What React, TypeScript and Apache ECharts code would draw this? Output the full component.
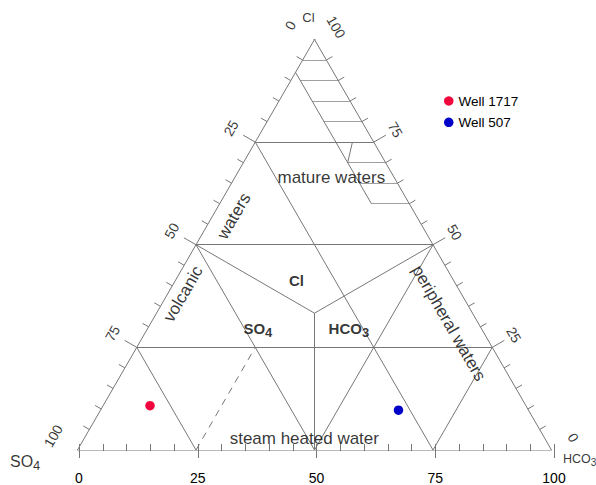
import React, { useEffect, useRef } from 'react';
import * as echarts from 'echarts';

const FONT = "'Liberation Sans', Arial, Helvetica, sans-serif";
const LINE = '#777777';
const HATCH = '#a0a0a0';
const TEXT = '#000000';

// tick values along every side (percent)
const TICK_VALUES = [0, 5, 10, 15, 20, 25, 30, 35, 40, 45, 50, 55, 60, 65, 70, 75, 80, 85, 90, 95, 100];
const LABEL_VALUES = [0, 25, 50, 75, 100];

// samples, ternary percentages
const WELL_NAMES = ['Well 1717', 'Well 507'];
const WELL_COLORS = ['#f0063c', '#0000c8'];
const WELL_CL = [10.8, 9.7];
const WELL_SO4 = [79.3, 27.4];
const WELL_HCO3 = [9.9, 62.8];

// field boundaries, each end as [Cl, SO4, HCO3]
const SOLID_SEGMENTS = [
  [[100, 0, 0], [0, 100, 0]],
  [[100, 0, 0], [0, 0, 100]],
  [[0, 100, 0], [0, 0, 100]],
  [[75, 25, 0], [75, 0, 25]],
  [[50, 50, 0], [50, 0, 50]],
  [[25, 75, 0], [25, 0, 75]],
  [[50, 50, 0], [0, 50, 50]],
  [[50, 0, 50], [0, 50, 50]],
  [[50, 50, 0], [33.33, 33.33, 33.34]],
  [[50, 0, 50], [33.33, 33.33, 33.34]],
  [[33.33, 33.33, 33.34], [0, 50, 50]],
  [[75, 25, 0], [0, 25, 75]],
  [[25, 75, 0], [0, 75, 25]],
  [[25, 0, 75], [0, 25, 75]],
  [[92, 8, 0], [60, 8, 32]],
  [[75, 4.5, 20.5], [70, 8, 22]],
];
const DASHED_SEGMENTS = [[[0, 75, 25], [25, 50, 25]]];
const HATCH_CL = [95, 90, 85, 80, 70, 65, 60];
const MATURE_SO4 = 8;

// annotations, anchored in ternary percentages [Cl, SO4, HCO3]
const REGION_TEXT = ['mature waters', 'waters', 'volcanic', 'peripheral waters', 'steam heated water'];
const REGION_POS = [[66.3, 13.3, 20.4], [57.0, 38.5, 4.5], [38.0, 58.7, 3.3], [30.9, 6.2, 62.9], [2.9, 50.7, 46.4]];
const REGION_ROTATE = [0, 60, 60, -60, 0];
const ANION_TEXT = ['{a|Cl}', '{a|SO}{b|4}', '{a|HCO}{b|3}'];
const ANION_POS = [[41.4, 33.1, 25.5], [29.7, 47.1, 23.2], [29.7, 27.9, 42.4]];

const PX = 100 / 474; // data units per pixel
const C30 = Math.cos(Math.PI / 6);

function tern(p: number[]): number[] {
  const [cl, so4, hco3] = p;
  const s = cl + so4 + hco3;
  const c = (cl / s) * 100;
  const h = (hco3 / s) * 100;
  return [h + c / 2, (c * Math.sqrt(3)) / 2];
}

// shift a data point by screen pixels (dx right, dy down)
function shift(p: number[], dx: number, dy: number): number[] {
  return [p[0] + dx * PX, p[1] - dy * PX];
}

function buildOption() {
  const solid = SOLID_SEGMENTS.map((s) => ({ coords: [tern(s[0]), tern(s[1])] }));
  const dashed = DASHED_SEGMENTS.map((s) => ({ coords: [tern(s[0]), tern(s[1])] }));
  const hatch = HATCH_CL.map((cl) => {
    const so4 = Math.min(MATURE_SO4, 100 - cl);
    return { coords: [tern([cl, so4, 100 - cl - so4]), tern([cl, 0, 100 - cl])] };
  });

  const ticks: any[] = [];
  TICK_VALUES.forEach((v) => {
    const len = v % 25 === 0 ? 14 : 7;
    const l = tern([100 - v, v, 0]);
    ticks.push({ coords: [l, shift(l, -C30 * len, -0.5 * len)] });
    const r = tern([v, 0, 100 - v]);
    ticks.push({ coords: [r, shift(r, C30 * len, -0.5 * len)] });
  });

  const labelItems: any[] = [];
  LABEL_VALUES.forEach((v) => {
    const l = tern([100 - v, v, 0]);
    labelItems.push({
      value: shift(l, -C30 * 28, -0.5 * 28),
      label: { formatter: String(v), rotate: 60, fontSize: 14 },
    });
    const r = tern([v, 0, 100 - v]);
    labelItems.push({
      value: shift(r, C30 * 25, -0.5 * 25),
      label: { formatter: String(v), rotate: -60, fontSize: 14 },
    });
  });
  REGION_TEXT.forEach((t, i) => {
    labelItems.push({
      value: tern(REGION_POS[i]),
      label: { formatter: t, rotate: REGION_ROTATE[i], fontSize: 17 },
    });
  });
  const rich = {
    a: { fontSize: 15, fontWeight: 'bold', lineHeight: 22, color: TEXT, fontFamily: FONT },
    b: { fontSize: 13, fontWeight: 'bold', lineHeight: 11, verticalAlign: 'bottom', color: TEXT, fontFamily: FONT },
  };
  ANION_TEXT.forEach((t, i) => {
    labelItems.push({ value: tern(ANION_POS[i]), label: { formatter: t, rich } });
  });
  // corner titles
  labelItems.push({
    value: shift(tern([100, 0, 0]), -6, -21.5),
    label: { formatter: 'Cl', fontSize: 13 },
  });
  labelItems.push({
    value: shift(tern([0, 100, 0]), -67.5, 11),
    label: {
      formatter: '{a|SO}{b|4}',
      align: 'left',
      rich: {
        a: { fontSize: 16, lineHeight: 22, color: TEXT, fontFamily: FONT },
        b: { fontSize: 13, lineHeight: 9, verticalAlign: 'bottom', color: TEXT, fontFamily: FONT },
      },
    },
  });
  labelItems.push({
    value: shift(tern([0, 0, 100]), 11.5, 8.5),
    label: {
      formatter: '{a|HCO}{b|3}',
      align: 'left',
      rich: {
        a: { fontSize: 12.5, lineHeight: 18, color: TEXT, fontFamily: FONT },
        b: { fontSize: 10, lineHeight: 8, verticalAlign: 'bottom', color: TEXT, fontFamily: FONT },
      },
    },
  });

  const wellSeries = WELL_NAMES.map((name, i) => ({
    name,
    type: 'scatter',
    xAxisIndex: 0,
    yAxisIndex: 0,
    symbol: 'circle',
    symbolSize: 9.5,
    itemStyle: { color: WELL_COLORS[i], opacity: 1 },
    data: [tern([WELL_CL[i], WELL_SO4[i], WELL_HCO3[i]])],
    z: 10,
  }));

  return {
    animation: false,
    backgroundColor: '#ffffff',
    textStyle: { fontFamily: FONT },
    grid: [
      { left: 77.5, right: 44.5, top: 39.5, bottom: 35 },
      { left: 79, right: 42, top: 39.5, bottom: 35 },
    ],
    xAxis: [
      { gridIndex: 0, type: 'value', min: 0, max: 100, show: false },
      {
        gridIndex: 1,
        type: 'value',
        min: 0,
        max: 100,
        interval: 25,
        axisLine: { show: false, onZero: false },
        axisTick: { show: true, length: 14, lineStyle: { color: LINE, width: 1 } },
        minorTick: { show: true, splitNumber: 5, length: 7, lineStyle: { color: LINE, width: 1 } },
        splitLine: { show: false },
        minorSplitLine: { show: false },
        axisLabel: { margin: 27, fontSize: 14, color: TEXT, fontFamily: FONT },
      },
    ],
    yAxis: [
      { gridIndex: 0, type: 'value', min: 0, max: 86.6025, show: false },
      { gridIndex: 1, type: 'value', min: 0, max: 1, show: false },
    ],
    legend: {
      data: WELL_NAMES,
      orient: 'vertical',
      left: 444,
      top: 94,
      padding: 0,
      icon: 'circle',
      itemWidth: 9.5,
      itemHeight: 9.5,
      itemGap: 7.3,
      itemStyle: { opacity: 1 },
      textStyle: { fontSize: 13.5, lineHeight: 14, color: TEXT, fontFamily: FONT },
    },
    series: [
      {
        type: 'lines',
        coordinateSystem: 'cartesian2d',
        xAxisIndex: 0,
        yAxisIndex: 0,
        silent: true,
        lineStyle: { color: HATCH, width: 1, opacity: 1 },
        data: hatch,
        z: 2,
      },
      {
        type: 'lines',
        coordinateSystem: 'cartesian2d',
        xAxisIndex: 0,
        yAxisIndex: 0,
        silent: true,
        lineStyle: { color: LINE, width: 1, opacity: 1 },
        data: solid.concat(ticks),
        z: 3,
      },
      {
        type: 'lines',
        coordinateSystem: 'cartesian2d',
        xAxisIndex: 0,
        yAxisIndex: 0,
        silent: true,
        lineStyle: { color: LINE, width: 1, type: [7, 6], opacity: 1 },
        data: dashed,
        z: 3,
      },
      ...wellSeries,
      {
        type: 'scatter',
        xAxisIndex: 0,
        yAxisIndex: 0,
        silent: true,
        clip: false,
        symbol: 'circle',
        symbolSize: 1,
        itemStyle: { color: 'rgba(0,0,0,0)' },
        label: {
          show: true,
          position: 'inside',
          color: TEXT,
          fontFamily: FONT,
        },
        labelLayout: { hideOverlap: false },
        data: labelItems,
        z: 12,
      },
    ],
  };
}

export default function App() {
  const ref = useRef<HTMLDivElement>(null);
  useEffect(() => {
    if (!ref.current) return;
    const chart = echarts.init(ref.current, undefined, { renderer: 'svg' });
    chart.setOption(buildOption() as any);
    return () => chart.dispose();
  }, []);
  return (
    <div
      ref={ref}
      style={{ position: 'fixed', left: 0, top: 0, width: 596, height: 485, background: '#fff' }}
    />
  );
}
